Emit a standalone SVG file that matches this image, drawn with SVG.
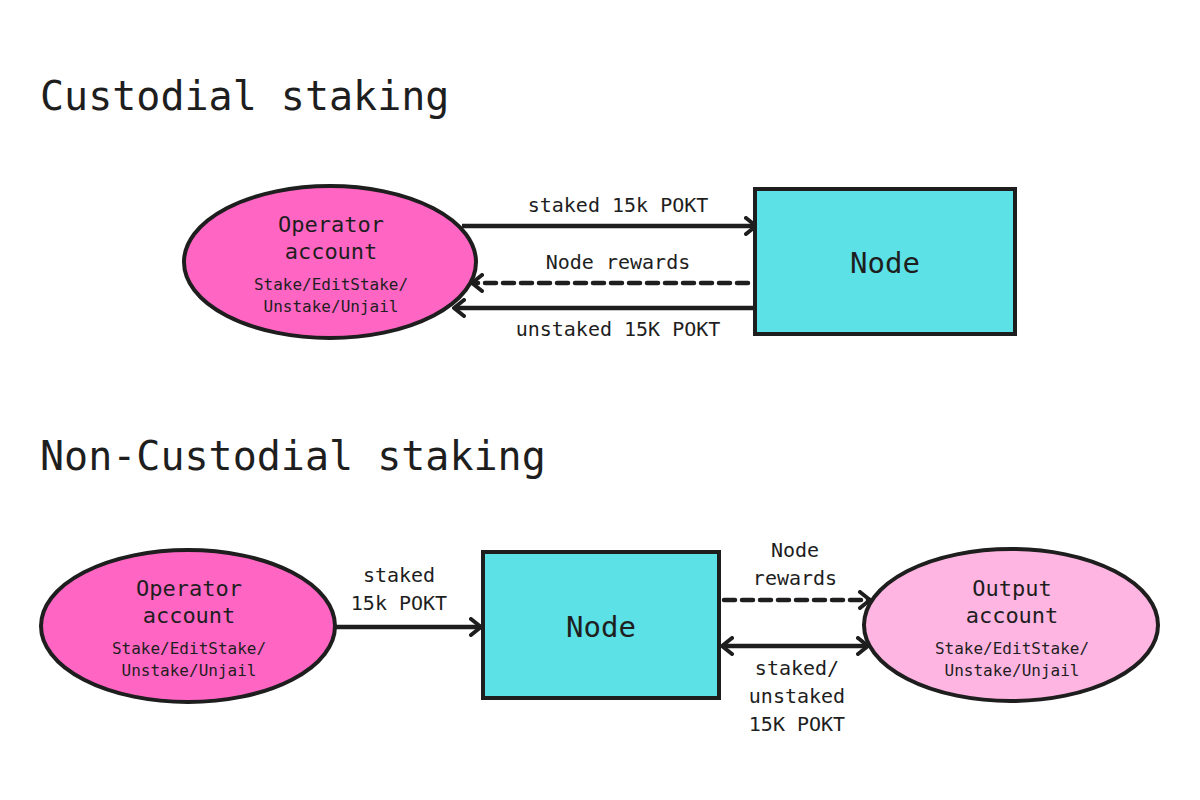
<svg xmlns="http://www.w3.org/2000/svg" width="1200" height="800" viewBox="0 0 1200 800">
  <style>
    text { font-family: "DejaVu Sans Mono", "Liberation Mono", monospace; fill: #1e1e1e; }
    .title { font-size: 40px; }
    .name { font-size: 22px; text-anchor: middle; }
    .small { font-size: 16px; text-anchor: middle; }
    .node { font-size: 29px; text-anchor: middle; }
    .lbl { font-size: 20px; text-anchor: middle; }
    .shape { stroke: #1e1e1e; stroke-width: 4; }
    .op { fill: #ff66c4; }
    .out { fill: #ffb5e2; }
    .box { fill: #5ce1e6; }
    .conn { stroke: #1e1e1e; stroke-width: 4.5; fill: none; }
    .dash { stroke-dasharray: 11 7; stroke-linecap: round; }
  </style>
  <defs>
    <marker id="arr" viewBox="0 0 14 20" refX="12" refY="10" markerWidth="14" markerHeight="20" markerUnits="userSpaceOnUse" orient="auto-start-reverse">
      <path d="M2,2 L12,10 L2,18" fill="none" stroke="#1e1e1e" stroke-width="4" stroke-linecap="round" stroke-linejoin="round"/>
    </marker>
  </defs>
  <rect width="1200" height="800" fill="#ffffff"/>

  <text class="title" x="40" y="110">Custodial staking</text>
  <text class="title" x="40" y="470">Non-Custodial staking</text>

  <g id="connectors">
    <line class="conn" x1="462" y1="226" x2="756" y2="226" marker-end="url(#arr)"/>
    <line class="conn dash" x1="748" y1="283" x2="472" y2="283" marker-end="url(#arr)"/>
    <line class="conn" x1="753" y1="308" x2="454" y2="308" marker-end="url(#arr)"/>
    <line class="conn" x1="336" y1="627" x2="481" y2="627" marker-end="url(#arr)"/>
    <line class="conn dash" x1="724" y1="600" x2="870" y2="600" marker-end="url(#arr)"/>
    <line class="conn" x1="722" y1="646" x2="868" y2="646" marker-start="url(#arr)" marker-end="url(#arr)"/>
    <text class="lbl" x="618" y="212">staked 15k POKT</text>
    <text class="lbl" x="618" y="269">Node rewards</text>
    <text class="lbl" x="618" y="336">unstaked 15K POKT</text>
    <text class="lbl" x="399" y="582">staked</text>
    <text class="lbl" x="399" y="610">15k POKT</text>
    <text class="lbl" x="795" y="557">Node</text>
    <text class="lbl" x="795" y="585">rewards</text>
    <text class="lbl" x="797" y="675">staked/</text>
    <text class="lbl" x="797" y="703">unstaked</text>
    <text class="lbl" x="797" y="731">15K POKT</text>
  </g>

  <g id="operator1">
    <ellipse class="shape op" cx="330" cy="262" rx="146" ry="76"/>
    <text class="name" x="331" y="232">Operator</text>
    <text class="name" x="331" y="259">account</text>
    <text class="small" x="331" y="290">Stake/EditStake/</text>
    <text class="small" x="331" y="312">Unstake/Unjail</text>
  </g>

  <g id="node1">
    <rect class="shape box" x="755" y="189" width="260" height="145"/>
    <text class="node" x="885" y="273">Node</text>
  </g>

  <g id="operator2">
    <ellipse class="shape op" cx="188" cy="626" rx="147" ry="76"/>
    <text class="name" x="189" y="596">Operator</text>
    <text class="name" x="189" y="623">account</text>
    <text class="small" x="189" y="654">Stake/EditStake/</text>
    <text class="small" x="189" y="676">Unstake/Unjail</text>
  </g>

  <g id="node2">
    <rect class="shape box" x="483" y="552" width="236" height="146"/>
    <text class="node" x="601" y="637">Node</text>
  </g>

  <g id="output">
    <ellipse class="shape out" cx="1011" cy="625" rx="147" ry="76"/>
    <text class="name" x="1012" y="596">Output</text>
    <text class="name" x="1012" y="623">account</text>
    <text class="small" x="1012" y="654">Stake/EditStake/</text>
    <text class="small" x="1012" y="676">Unstake/Unjail</text>
  </g>
</svg>
